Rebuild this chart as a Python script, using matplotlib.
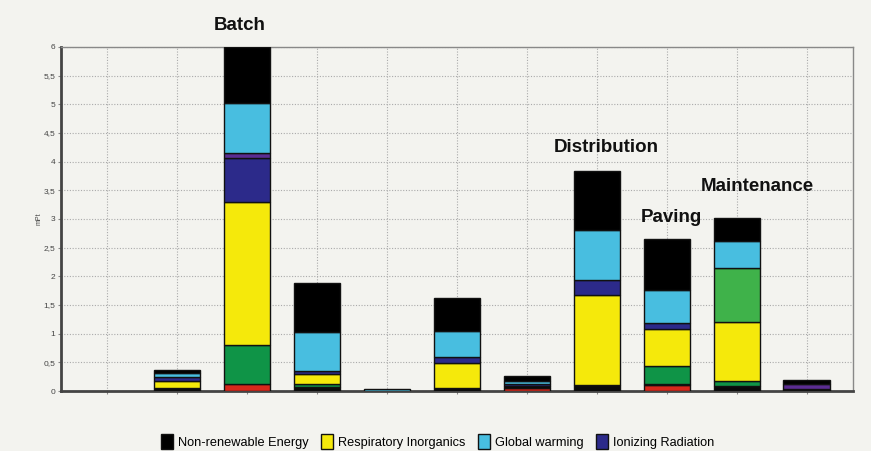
import matplotlib.pyplot as plt
from matplotlib.patches import Patch

# stacked from bottom to top, one value per slot (11 slots, first one empty)
carcinogens   = [0, 0,    0.13, 0,    0,    0,    0.05, 0,    0.10, 0,    0.02]
minerals      = [0, 0.06, 0,    0.07, 0,    0.06, 0.03, 0.10, 0.03, 0.08, 0.02]
land_use      = [0, 0,    0.67, 0.06, 0,    0,    0,    0,    0.31, 0.10, 0]
resp_inorg    = [0, 0.12, 2.50, 0.16, 0,    0.42, 0,    1.57, 0.64, 1.03, 0]
ionizing      = [0, 0.06, 0.76, 0.06, 0,    0.11, 0.05, 0.27, 0.10, 0,    0]
ozone         = [0, 0,    0.09, 0,    0,    0,    0,    0,    0,    0,    0.08]
ecotox        = [0, 0,    0,    0,    0,    0,    0,    0,    0,    0.93, 0]
global_warm   = [0, 0.07, 0.87, 0.68, 0.03, 0.46, 0.04, 0.87, 0.59, 0.48, 0]
non_renewable = [0, 0.05, 0.98, 0.85, 0,    0.58, 0.10, 1.02, 0.88, 0.39, 0.07]

series = [
    ('Carcinogens', carcinogens, '#d8281c'),
    ('Minerals', minerals, '#0a0a0a'),
    ('Land occupation', land_use, '#0f9447'),
    ('Respiratory Inorganics', resp_inorg, '#f5e90b'),
    ('Ionizing Radiation', ionizing, '#2c2a8a'),
    ('Ozone layer', ozone, '#5b2d92'),
    ('Ecotoxicity', ecotox, '#3fb24a'),
    ('Global warming', global_warm, '#48bee0'),
    ('Non-renewable Energy', non_renewable, '#000000'),
]

# (slot position, text, height) for the stage names
labels = [(1.9, 'Batch', 6.38), (7.14, 'Distribution', 4.24),
          (8.07, 'Paving', 3.03), (9.3, 'Maintenance', 3.56)]

font = ['Liberation Sans Narrow', 'Liberation Sans', 'DejaVu Sans']
bg = '#f3f3ef'

fig = plt.figure(figsize=(8.71, 4.51), dpi=100, facecolor=bg)
ax = fig.add_axes([0.070, 0.133, 0.909, 0.763], facecolor=bg)

x = list(range(11))
bottom = [0.0] * 11
for name, vals, color in series:
    xs = [i for i in x if vals[i] > 0]
    hs = [vals[i] for i in xs]
    bs = [bottom[i] for i in xs]
    if xs:
        ax.bar(xs, hs, width=0.66, bottom=bs, color=color,
               edgecolor='#111111', linewidth=1.0, zorder=3)
    bottom = [b + v for b, v in zip(bottom, vals)]

for xpos, text, y in labels:
    ax.text(xpos, y, text, ha='center', va='center', fontsize=13.5,
            fontweight='bold', family=font, color='#111111', clip_on=False)

ax.set_xlim(-0.66, 10.66)
ax.set_ylim(0, 6)
ax.set_xticks(x)
ax.set_xticklabels([])
ax.set_yticks([i * 0.5 for i in range(13)])
ax.set_yticklabels([('%g' % (i * 0.5)).replace('.', ',') for i in range(13)],
                   fontsize=6, family=font, color='#444444')
ax.tick_params(axis='both', length=2, color='#888888', pad=2)
ax.grid(True, linestyle=(0, (1, 1.5)), color='#aaaaaa', linewidth=0.8, zorder=0)
ax.set_ylabel('mPt', fontsize=5, family=font, color='#444444', labelpad=1)

for side in ['top', 'right']:
    ax.spines[side].set_color('#888888')
    ax.spines[side].set_linewidth(1.0)
for side in ['left', 'bottom']:
    ax.spines[side].set_color('#444444')
    ax.spines[side].set_linewidth(2.0)

legend_names = ['Non-renewable Energy', 'Respiratory Inorganics', 'Global warming', 'Ionizing Radiation']
colors = {n: c for n, _, c in series}
handles = [Patch(facecolor=colors[n], edgecolor='#111111', label=n) for n in legend_names]
fig.legend(handles=handles, loc='center left', bbox_to_anchor=(0.172, 0.021), ncol=4,
           frameon=False, prop={'family': font, 'size': 9.2}, handlelength=0.9,
           handleheight=1.4, handletextpad=0.4, columnspacing=1.0)

fig.savefig('out.png', dpi=100, facecolor=bg)
